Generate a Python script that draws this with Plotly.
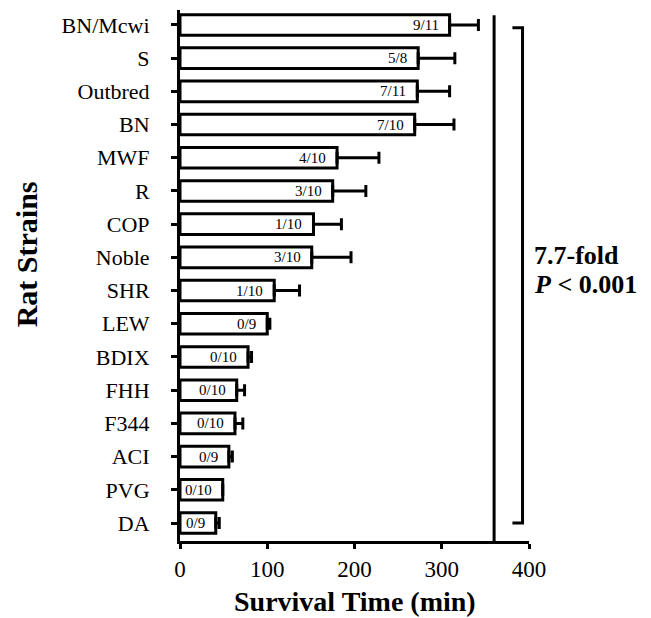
import plotly.graph_objects as go

strains = ["BN/Mcwi", "S", "Outbred", "BN", "MWF", "R", "COP", "Noble",
           "SHR", "LEW", "BDIX", "FHH", "F344", "ACI", "PVG", "DA"]
survival = [309, 273, 272, 269, 180, 175, 153, 151, 108, 100, 78, 65, 63, 56, 49, 41]
sem = [33, 42, 37, 45, 48, 38, 32, 45, 29, 3, 4, 9, 9, 4, 0, 4]
survivors = ["9/11", "5/8", "7/11", "7/10", "4/10", "3/10", "1/10", "3/10",
             "1/10", "0/9", "0/10", "0/10", "0/10", "0/9", "0/10", "0/9"]
xticks = [0, 100, 200, 300, 400]
end_time = 360

FONT = "Liberation Serif"

fig = go.Figure()
fig.add_trace(go.Bar(
    x=survival, y=strains, orientation="h", width=0.62,
    marker=dict(color="white", line=dict(color="black", width=3)),
    error_x=dict(type="data", symmetric=False, array=sem,
                 arrayminus=[0] * len(sem), color="black", thickness=3, width=6),
    showlegend=False, hoverinfo="skip",
))

annotations = []
for s, v, lab in zip(strains, survival, survivors):
    annotations.append(dict(x=v, y=s, xref="x", yref="y", text=lab, showarrow=False,
                            xanchor="right", yanchor="middle", xshift=-9,
                            font=dict(family=FONT, size=15, color="black")))

annotations += [
    dict(x=0.5, y=-0.113, xref="paper", yref="paper", text="<b>Survival Time (min)</b>",
         showarrow=False, xanchor="center", yanchor="middle",
         font=dict(family=FONT, size=28, color="black")),
    dict(x=-0.441, y=0.54, xref="paper", yref="paper", text="<b>Rat Strains</b>",
         showarrow=False, textangle=-90, xanchor="center", yanchor="middle",
         font=dict(family=FONT, size=30, color="black")),
    dict(x=1.01, y=(541 - 255) / 531, xref="paper", yref="paper", text="<b>7.7-fold</b>",
         showarrow=False, xanchor="left", yanchor="middle",
         font=dict(family=FONT, size=26, color="black")),
    dict(x=1.01, y=(541 - 284) / 531, xref="paper", yref="paper",
         text="<b><i>P</i> &lt; 0.001</b>",
         showarrow=False, xanchor="left", yanchor="middle",
         font=dict(family=FONT, size=26, color="black")),
]

shapes = [
    dict(type="line", xref="x", yref="paper", x0=end_time, x1=end_time, y0=0, y1=0.99,
         line=dict(color="black", width=3)),
    dict(type="path", xref="x", yref="paper",
         path="M 381,0.9667 L 392.6,0.9667 L 392.6,0.0339 L 381,0.0339",
         line=dict(color="black", width=3)),
]

fig.update_layout(
    width=651, height=618,
    margin=dict(l=171.5, r=129.5, t=2, b=85),
    paper_bgcolor="white", plot_bgcolor="white",
    annotations=annotations, shapes=shapes,
    font=dict(family=FONT, color="black"),
)
fig.update_xaxes(
    range=[0, 400], tickvals=xticks, ticktext=[str(t) for t in xticks],
    showline=True, linecolor="black", linewidth=3, mirror=False,
    ticks="outside", ticklen=5, tickwidth=3, tickcolor="black",
    showgrid=False, zeroline=False,
    tickfont=dict(family=FONT, size=23, color="black"),
)
fig.update_yaxes(
    type="category", categoryorder="array", categoryarray=strains[::-1],
    range=[-0.542, 15.45],
    showline=True, linecolor="black", linewidth=3,
    ticks="outside", ticklen=6, tickwidth=3, tickcolor="black",
    ticklabelstandoff=17,
    showgrid=False, zeroline=False,
    tickfont=dict(family=FONT, size=22, color="black"),
)

fig.write_html("out.html")
